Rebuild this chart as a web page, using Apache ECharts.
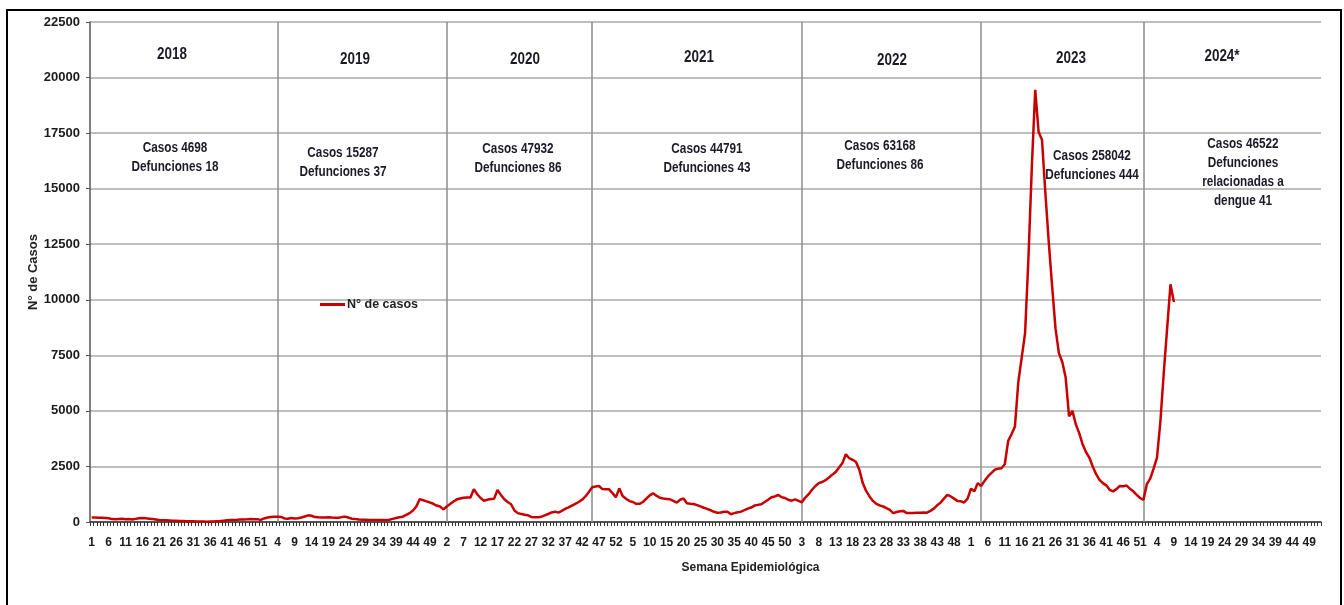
<!DOCTYPE html>
<html>
<head>
<meta charset="utf-8">
<script src="https://cdn.jsdelivr.net/npm/echarts@6/dist/echarts.min.js"></script>
<style>html,body{margin:0;padding:0;background:#fff}#c{width:1344px;height:605px}</style>
</head>
<body>
<div id="c"></div>
<script>
// ---- data ----
var years = ['2018','2019','2020','2021','2022','2023','2024'];
var weeksPerYear = 52;
var y2018 = [200,200,195,190,180,170,130,120,140,150,120,130,110,140,170,180,170,150,130,110,90,80,75,70,60,55,50,45,35,30,30,25,20,20,15,20,25,35,45,60,75,90,95,100,110,115,120,130,125,120,95,160];
var y2019 = [200,225,235,240,230,160,150,180,160,170,200,250,300,280,220,210,205,200,210,200,195,195,220,240,190,150,130,115,105,100,95,95,90,90,90,90,100,140,180,210,240,320,400,520,700,1030,980,930,880,820,740,700];
var y2020 = [570,700,810,920,1020,1060,1095,1100,1100,1470,1250,1080,960,1000,1035,1050,1440,1220,1020,900,800,520,400,360,330,300,230,210,210,240,300,360,430,465,420,500,590,660,740,820,900,1000,1150,1350,1560,1600,1620,1480,1470,1470,1300,1110];
var y2021 = [1515,1170,1050,940,900,820,820,900,1050,1200,1290,1180,1095,1060,1040,1020,950,870,1000,1060,840,820,810,760,700,640,590,530,460,420,430,460,460,350,400,440,465,530,600,650,740,770,800,900,1000,1110,1150,1215,1120,1080,1000,960];
var y2022 = [1020,950,890,1100,1250,1450,1620,1750,1800,1880,2000,2130,2250,2450,2650,3050,2870,2800,2700,2350,1750,1400,1150,950,820,750,700,620,550,400,450,480,500,400,400,410,420,420,430,420,500,600,750,870,1050,1220,1150,1050,950,930,880,1050];
var y2023 = [1500,1380,1750,1620,1850,2050,2200,2350,2400,2420,2600,3650,3950,4300,6300,7400,8500,11900,16000,19450,17550,17200,14800,12600,10600,8700,7600,7200,6500,4750,5000,4400,4000,3500,3150,2900,2500,2150,1900,1750,1650,1450,1380,1480,1620,1610,1640,1500,1380,1220,1080,1000];
var y2024 = [1700,1950,2400,2900,4500,6700,8700,10700,9900];
var separatorWeeks = ['2019-4','2020-2','2020-45','2022-3','2023-4','2023-52'];
var yearLabels = ['2018','2019','2020','2021','2022','2023','2024*'];
var yearNotes = [
  'Casos 4698\nDefunciones 18',
  'Casos 15287\nDefunciones 37',
  'Casos 47932\nDefunciones 86',
  'Casos 44791\nDefunciones 43',
  'Casos 63168\nDefunciones 86',
  'Casos 258042\nDefunciones 444',
  'Casos 46522\nDefunciones\nrelacionadas a\ndengue 41'
];

// ---- build ----
var categories = [];
years.forEach(function(y){ for (var w = 1; w <= weeksPerYear; w++) categories.push(y + '-' + w); });
var values = [].concat(y2018, y2019, y2020, y2021, y2022, y2023, y2024);

// annotation placement (pixels)
var yearPos = [[172,55],[355,60],[525,60],[699,58],[892,61],[1071,59],[1222,57]];
var notePos = [[175,148],[343,153],[518,149],[707,149],[880,146],[1092,156],[1243,144]];
var noteFont = 'bold 14px "Liberation Sans", Arial, sans-serif';
var yearFont = 'bold 16px "Liberation Sans", Arial, sans-serif';
var textColor = '#1b1b28';
var narrow = 0.84;

var graphics = [{
  type: 'rect', silent: true, z: -1,
  shape: {x: 7, y: 10, width: 1334, height: 700},
  style: {fill: 'none', stroke: '#000', lineWidth: 2}
}];
yearLabels.forEach(function(t, i){
  graphics.push({type: 'text', silent: true, z: 10,
    x: yearPos[i][0], y: yearPos[i][1], scaleX: narrow,
    style: {text: t, x: 0, y: 0, align: 'center', verticalAlign: 'middle', font: yearFont, fill: textColor}});
});
yearNotes.forEach(function(t, i){
  graphics.push({type: 'text', silent: true, z: 10,
    x: notePos[i][0], y: notePos[i][1] - 9.5, scaleX: narrow,
    style: {text: t, x: 0, y: 0, align: 'center', verticalAlign: 'top', lineHeight: 19, font: noteFont, fill: textColor}});
});

var chart = echarts.init(document.getElementById('c'), null, {renderer: 'canvas'});
chart.setOption({
  animation: false,
  backgroundColor: '#fff',
  grid: {left: 90, right: 23, top: 22, bottom: 83, containLabel: false},
  legend: {
    left: 320, top: 298, padding: 0, itemWidth: 25, itemHeight: 3, icon: 'rect', itemGap: 0,
    textStyle: {fontFamily: '"Liberation Sans", Arial, sans-serif', fontWeight: 'bold', fontSize: 12.5, color: '#222', padding: [0,0,0,-3]},
    data: ['N° de casos']
  },
  xAxis: {
    type: 'category',
    data: categories,
    boundaryGap: true,
    name: 'Semana Epidemiológica',
    nameLocation: 'middle',
    nameGap: 40,
    nameMoveOverlap: false,
    nameTextStyle: {fontFamily: '"Liberation Sans", Arial, sans-serif', fontWeight: 'bold', fontSize: 12, color: '#222', padding: [0,0,0,90]},
    axisLine: {lineStyle: {color: '#333', width: 1.5}},
    axisTick: {show: true, interval: 0, length: 4, lineStyle: {color: '#333', width: 1}},
    axisLabel: {
      interval: 4, margin: 15,
      fontFamily: '"Liberation Sans", Arial, sans-serif', fontWeight: 'bold', fontSize: 12, color: '#1a1a1a',
      formatter: function(v){ return v.split('-')[1]; }
    },
    splitLine: {show: false}
  },
  yAxis: {
    type: 'value',
    min: 0, max: 22500, interval: 2500,
    name: 'N° de Casos',
    nameLocation: 'middle',
    nameGap: 50,
    nameRotate: 90,
    nameMoveOverlap: false,
    nameTextStyle: {fontFamily: '"Liberation Sans", Arial, sans-serif', fontWeight: 'bold', fontSize: 13, color: '#222'},
    axisLine: {show: true, lineStyle: {color: '#555', width: 1.5}},
    axisTick: {show: true, length: 4, lineStyle: {color: '#555'}},
    axisLabel: {margin: 10, fontFamily: '"Liberation Sans", Arial, sans-serif', fontWeight: 'bold', fontSize: 13, color: '#1a1a1a',
      formatter: function(v){ return String(v); }},
    splitLine: {show: true, lineStyle: {color: '#a8a8a8', width: 1.6}}
  },
  series: [{
    name: 'N° de casos',
    type: 'line',
    data: values,
    showSymbol: false,
    symbol: 'none',
    lineStyle: {color: '#c80000', width: 2.5},
    itemStyle: {color: '#c80000'},
    z: 5,
    markLine: {
      silent: true, symbol: 'none', animation: false,
      label: {show: false},
      lineStyle: {color: '#8c8c8c', width: 1.5, type: 'solid'},
      data: separatorWeeks.map(function(w){ return {xAxis: w}; })
    }
  }],
  graphic: graphics
});
</script>
</body>
</html>
